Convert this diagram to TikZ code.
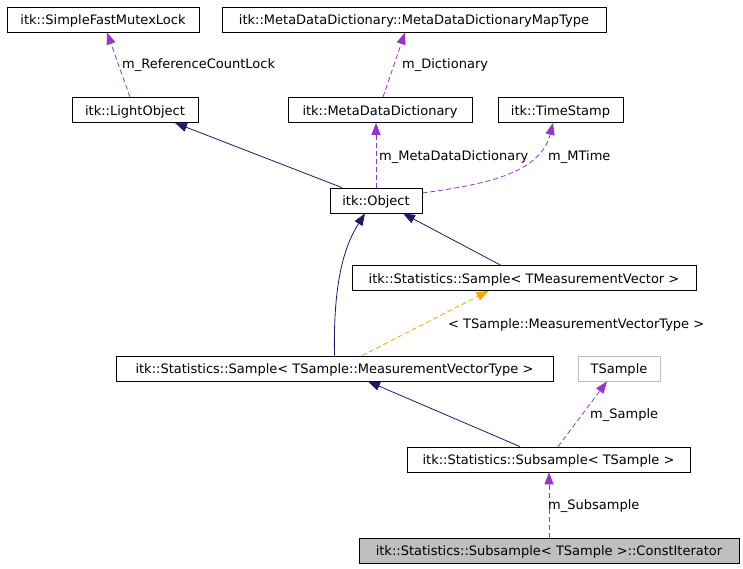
\documentclass[tikz,border=0pt]{standalone}
\usepackage{fontspec}
\setmainfont{DejaVu Sans}
\usetikzlibrary{arrows.meta,positioning}

\definecolor{edgeblue}{RGB}{25,25,112}
\definecolor{edgepurple}{RGB}{154,50,205}
\definecolor{edgeorange}{RGB}{255,165,0}
\definecolor{boxgray}{RGB}{191,191,191}

\begin{document}
\begin{tikzpicture}[
  x=1pt, y=-1pt,
  font=\fontsize{13}{15}\selectfont,
  box/.style={draw, line width=0.8pt, inner sep=0pt, minimum height=25pt, text height=12pt, text depth=2pt},
  lbl/.style={anchor=base west, inner sep=0pt},
  inherit/.style={-{Triangle[length=12pt,width=9pt]}, edgeblue, line width=0.8pt},
  usage/.style={-{Triangle[length=12pt,width=9pt]}, edgepurple, line width=0.8pt, dash pattern=on 5pt off 3pt},
  tmpl/.style={-{Triangle[length=12pt,width=9pt]}, edgeorange, line width=0.8pt, dash pattern=on 5pt off 3pt}
]
\useasboundingbox (0,0) rectangle (743,568);

\node[box, minimum width=192pt] (mutex) at (103,19.5) {itk::SimpleFastMutexLock};
\node[box, minimum width=384pt] (maptype) at (414,19.5) {itk::MetaDataDictionary::MetaDataDictionaryMapType};
\node[box, minimum width=126pt] (light) at (135,110) {itk::LightObject};
\node[box, minimum width=184pt] (dict) at (380,110) {itk::MetaDataDictionary};
\node[box, minimum width=125pt] (stamp) at (560.5,110) {itk::TimeStamp};
\node[box, minimum width=92pt] (object) at (376,200.5) {itk::Object};
\node[box, minimum width=344pt] (sampletmv) at (524,278) {itk::Statistics::Sample< TMeasurementVector >};
\node[box, minimum width=437pt] (samplemvt) at (334.5,368.5) {itk::Statistics::Sample< TSample::MeasurementVectorType >};
\node[box, draw=boxgray, minimum width=82pt] (tsample) at (619,368.5) {TSample};
\node[box, minimum width=283pt] (subsample) at (548.5,459.5) {itk::Statistics::Subsample< TSample >};
\node[box, fill=boxgray, minimum width=380pt] (iter) at (549,550.5) {itk::Statistics::Subsample< TSample >::ConstIterator};

% edges
\draw[usage] ([xshift=-5pt]light.north) -- ([xshift=4pt]mutex.south);
\draw[usage] ([xshift=3pt]dict.north) -- ([xshift=-9pt]maptype.south);
\draw[inherit] ([xshift=-34pt]object.north) -- ([xshift=40pt]light.south);
\draw[usage] (object.north) -- (object.north |- dict.south);
\draw[usage] ([yshift=7.5pt]object.east) .. controls (480,185) and (540,175) .. ([xshift=-7.5pt]stamp.south);
\draw[inherit] ([xshift=-23.5pt]sampletmv.north) -- ([xshift=27pt]object.south);
\draw[inherit] (samplemvt.north) .. controls (333,280) and (345,245) .. ([xshift=-11pt]object.south);
\draw[tmpl] ([xshift=27.5pt]samplemvt.north) -- ([xshift=-35.5pt]sampletmv.south);
\draw[inherit] ([xshift=-28.5pt]subsample.north) -- ([xshift=33.5pt]samplemvt.south);
\draw[usage] ([xshift=9.5pt]subsample.north) -- ([xshift=-12pt]tsample.south);
\draw[usage] (iter.north) -- (iter.north |- subsample.south);

% edge labels
\node[lbl] (lblock) at (122,68) {m\_ReferenceCountLock};
\node[lbl] (lbldict) at (402,68) {m\_Dictionary};
\node[lbl] (lblmdd) at (379,160) {m\_MetaDataDictionary};
\node[lbl] (lbltime) at (548,160) {m\_MTime};
\node[lbl] (lbltmpl) at (448,328) {< TSample::MeasurementVectorType >};
\node[lbl] (lblsample) at (590,418) {m\_Sample};
\node[lbl] (lblsub) at (548,509) {m\_Subsample};
\end{tikzpicture}
\end{document}
